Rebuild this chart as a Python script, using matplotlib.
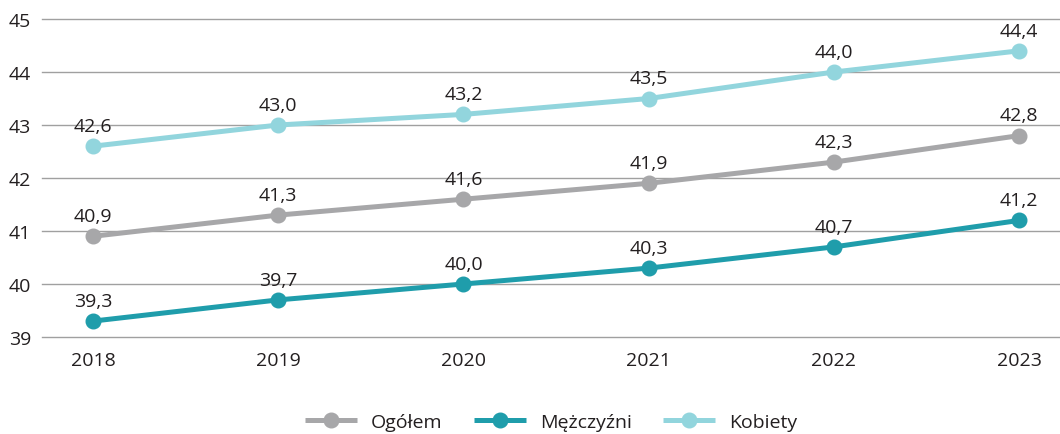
import matplotlib.pyplot as plt

plt.rcParams['font.family'] = ['Open Sans', 'DejaVu Sans']

# Data
years = [2018, 2019, 2020, 2021, 2022, 2023]
ogolem = [40.9, 41.3, 41.6, 41.9, 42.3, 42.8]
mezczyzni = [39.3, 39.7, 40.0, 40.3, 40.7, 41.2]
kobiety = [42.6, 43.0, 43.2, 43.5, 44.0, 44.4]

series = [
    ("Ogółem", ogolem, "#a7a7a9"),
    ("Mężczyźni", mezczyzni, "#1f9dab"),
    ("Kobiety", kobiety, "#92d5dd"),
]


def fmt(v):
    return f"{v:.1f}".replace(".", ",")


def main():
    fig = plt.figure(figsize=(10.6, 4.35), dpi=100)
    ax = fig.add_axes([0.0396, 0.223, 0.9604, 0.731])

    for name, vals, color in series:
        ax.plot(years, vals, color=color, lw=3.6, marker="o", markersize=10.5,
                label=name, zorder=3, solid_capstyle="butt")
        for x, v in zip(years, vals):
            ax.annotate(fmt(v), (x, v), xytext=(0, 8), textcoords="offset points",
                        ha="center", va="bottom", fontsize=14, color="#231f20")

    ax.set_ylim(39, 45)
    ax.set_xlim(2017.725, 2023.22)
    ax.set_yticks(range(39, 46))
    ax.set_xticks(years)
    ax.grid(axis="y", color="#a0a0a0", lw=1)
    for gl in ax.get_ygridlines():
        gl.set_clip_on(False)
    ax.set_axisbelow(True)
    for s in ax.spines.values():
        s.set_visible(False)
    ax.tick_params(length=0, labelsize=14, colors="#231f20")
    ax.tick_params(axis="x", pad=10)
    ax.tick_params(axis="y", pad=8)

    ax.legend(loc="center", bbox_to_anchor=(0.5, -0.267), ncol=3, frameon=False,
              fontsize=14, handlelength=2.7, columnspacing=1.6, handletextpad=0.7,
              labelcolor="#231f20")

    fig.savefig("out.png", dpi=100)


if __name__ == '__main__':
    main()
